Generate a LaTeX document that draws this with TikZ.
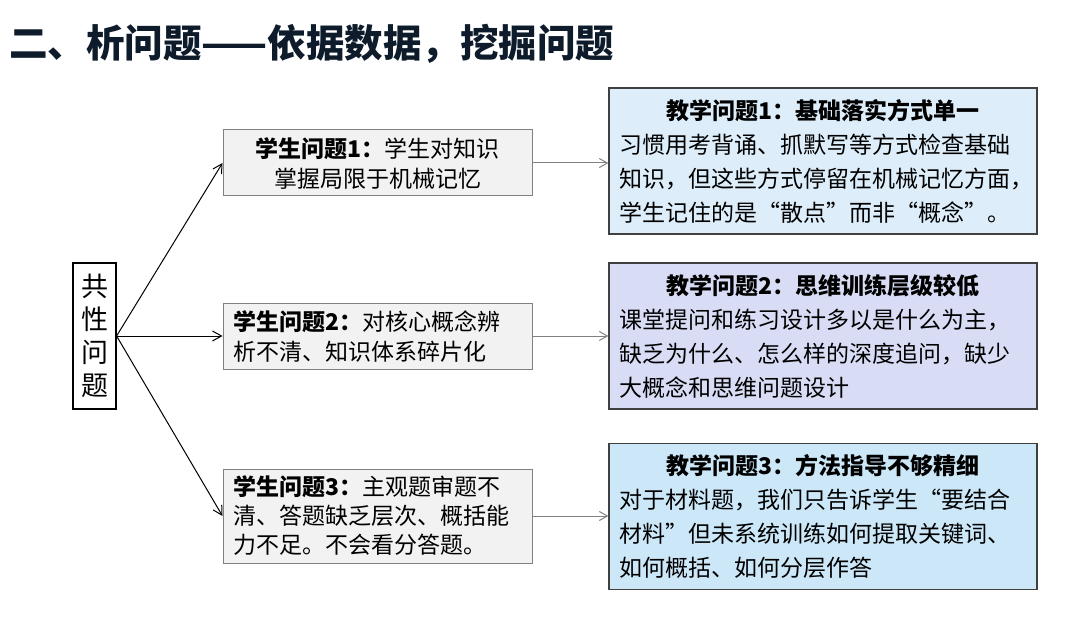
\documentclass[tikz,border=0pt]{standalone}
\usepackage{fontspec}
\setmainfont{Noto Sans CJK SC}
\usetikzlibrary{arrows.meta}
\definecolor{titlenavy}{HTML}{0D1B2A}
\definecolor{stufill}{HTML}{F2F2F2}
\definecolor{stuline}{HTML}{808080}
\definecolor{teaone}{HTML}{DDEEFA}
\definecolor{teatwo}{HTML}{D8DDF5}
\definecolor{teathree}{HTML}{CCE8F8}
\definecolor{tealine}{HTML}{404040}
\begin{document}
\begin{tikzpicture}[x=1pt,y=-1pt,
	stu/.style={draw=stuline,fill=stufill,line width=1pt,minimum width=309pt,inner sep=0pt,text width=289pt,font=\fontsize{23}{30}\selectfont},
	tea/.style={draw=tealine,line width=1.3pt,minimum width=428pt,minimum height=146pt,inner sep=0pt,text width=408pt,align=left,font=\fontsize{23}{34}\selectfont},
	fork/.style={-{Straight Barb[length=9pt,width=10pt]},line width=1pt,black},
	link/.style={-{Straight Barb[length=8pt,width=9pt]},line width=1pt,stuline}]

	\useasboundingbox (0,0) rectangle (1080,623);
	\node[anchor=west,inner sep=0pt,text=titlenavy,font=\fontsize{38.5}{38.5}\selectfont\bfseries] (title) at (9,44) {二、析问题——依据数据，挖掘问题};

	\node[draw,line width=1.2pt,minimum width=43pt,minimum height=146pt,inner sep=0pt,align=center,font=\fontsize{27}{33}\selectfont] (common) at (94.5,336) {共\\性\\问\\题};

	\node[stu,minimum height=66pt,align=center] (s1) at (377.5,163) {\textbf{学生问题1：}学生对知识\\掌握局限于机械记忆};
	\node[stu,minimum height=66pt,align=left] (s2) at (377.5,336) {\textbf{学生问题2：}对核心概念辨\\析不清、知识体系碎片化};
	\node[stu,minimum height=94pt,align=left,font=\fontsize{23}{29}\selectfont] (s3) at (377.5,516) {\textbf{学生问题3：}主观题审题不\\清、答题缺乏层次、概括能\\力不足。不会看分答题。};

	\node[tea,fill=teaone] (t1) at (823,161) {\makebox[\linewidth][c]{\textbf{教学问题1：基础落实方式单一}}\\习惯用考背诵、抓默写等方式检查基础\\知识，但这些方式停留在机械记忆方面，\\学生记住的是“散点”而非“概念”。};
	\node[tea,fill=teatwo] (t2) at (823,336) {\makebox[\linewidth][c]{\textbf{教学问题2：思维训练层级较低}}\\课堂提问和练习设计多以是什么为主，\\缺乏为什么、怎么样的深度追问，缺少\\大概念和思维问题设计};
	\node[tea,fill=teathree] (t3) at (823,516.5) {\makebox[\linewidth][c]{\textbf{教学问题3：方法指导不够精细}}\\对于材料题，我们只告诉学生“要结合\\材料”但未系统训练如何提取关键词、\\如何概括、如何分层作答};

	\draw[fork] (common.east) -- (s1.west);
	\draw[fork] (common.east) -- (s2.west);
	\draw[fork] (common.east) -- (s3.west);
	\draw[link] (s1.east) -- (s1.east -| t1.west);
	\draw[link] (s2.east) -- (s2.east -| t2.west);
	\draw[link] (s3.east) -- (s3.east -| t3.west);
\end{tikzpicture}
\end{document}
